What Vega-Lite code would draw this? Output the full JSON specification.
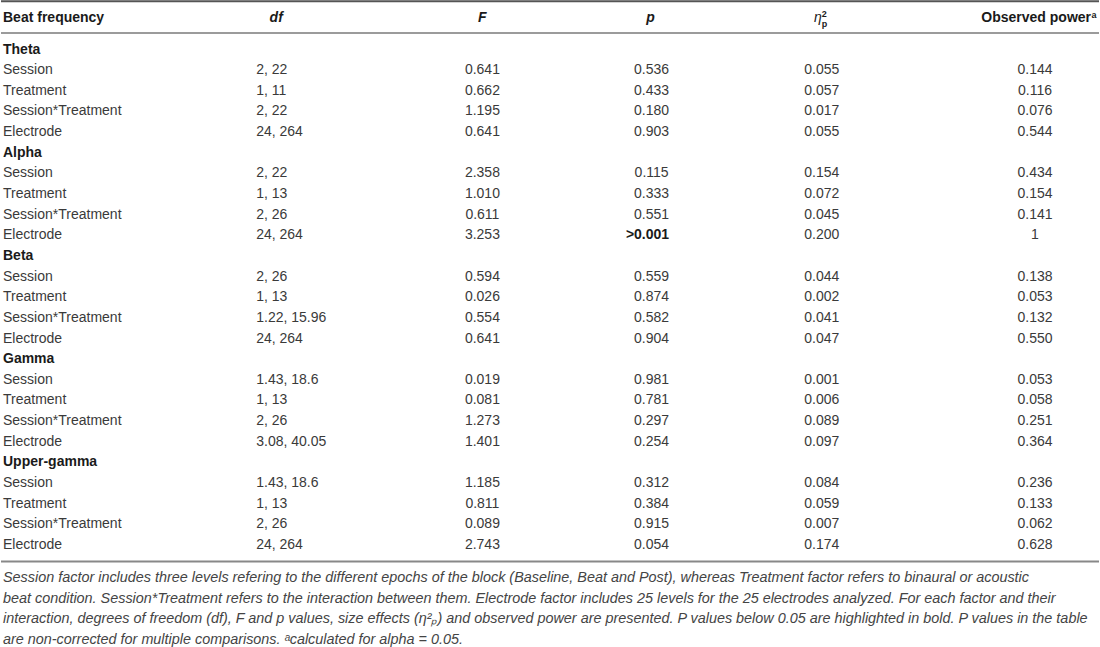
{
  "$schema": "https://vega.github.io/schema/vega-lite/v6.json",
  "width": 1100,
  "height": 647,
  "padding": 0,
  "autosize": {"type": "fit", "contains": "padding"},
  "background": "#ffffff",
  "config": {
    "view": {"stroke": null},
    "axis": {"disable": true},
    "text": {"font": "Liberation Sans", "fontSize": 14, "baseline": "middle", "color": "#3a3a3a"}
  },
  "datasets": {
    "table": [
      {"line": 1, "kind": "section", "label": "Theta"},
      {"line": 2, "kind": "row", "label": "Session", "df": "2, 22", "F": "0.641", "p": "0.536", "eta": "0.055", "power": "0.144"},
      {"line": 3, "kind": "row", "label": "Treatment", "df": "1, 11", "F": "0.662", "p": "0.433", "eta": "0.057", "power": "0.116"},
      {"line": 4, "kind": "row", "label": "Session*Treatment", "df": "2, 22", "F": "1.195", "p": "0.180", "eta": "0.017", "power": "0.076"},
      {"line": 5, "kind": "row", "label": "Electrode", "df": "24, 264", "F": "0.641", "p": "0.903", "eta": "0.055", "power": "0.544"},
      {"line": 6, "kind": "section", "label": "Alpha"},
      {"line": 7, "kind": "row", "label": "Session", "df": "2, 22", "F": "2.358", "p": "0.115", "eta": "0.154", "power": "0.434"},
      {"line": 8, "kind": "row", "label": "Treatment", "df": "1, 13", "F": "1.010", "p": "0.333", "eta": "0.072", "power": "0.154"},
      {"line": 9, "kind": "row", "label": "Session*Treatment", "df": "2, 26", "F": "0.611", "p": "0.551", "eta": "0.045", "power": "0.141"},
      {"line": 10, "kind": "row", "label": "Electrode", "df": "24, 264", "F": "3.253", "p": ">0.001", "eta": "0.200", "power": "1"},
      {"line": 11, "kind": "section", "label": "Beta"},
      {"line": 12, "kind": "row", "label": "Session", "df": "2, 26", "F": "0.594", "p": "0.559", "eta": "0.044", "power": "0.138"},
      {"line": 13, "kind": "row", "label": "Treatment", "df": "1, 13", "F": "0.026", "p": "0.874", "eta": "0.002", "power": "0.053"},
      {"line": 14, "kind": "row", "label": "Session*Treatment", "df": "1.22, 15.96", "F": "0.554", "p": "0.582", "eta": "0.041", "power": "0.132"},
      {"line": 15, "kind": "row", "label": "Electrode", "df": "24, 264", "F": "0.641", "p": "0.904", "eta": "0.047", "power": "0.550"},
      {"line": 16, "kind": "section", "label": "Gamma"},
      {"line": 17, "kind": "row", "label": "Session", "df": "1.43, 18.6", "F": "0.019", "p": "0.981", "eta": "0.001", "power": "0.053"},
      {"line": 18, "kind": "row", "label": "Treatment", "df": "1, 13", "F": "0.081", "p": "0.781", "eta": "0.006", "power": "0.058"},
      {"line": 19, "kind": "row", "label": "Session*Treatment", "df": "2, 26", "F": "1.273", "p": "0.297", "eta": "0.089", "power": "0.251"},
      {"line": 20, "kind": "row", "label": "Electrode", "df": "3.08, 40.05", "F": "1.401", "p": "0.254", "eta": "0.097", "power": "0.364"},
      {"line": 21, "kind": "section", "label": "Upper-gamma"},
      {"line": 22, "kind": "row", "label": "Session", "df": "1.43, 18.6", "F": "1.185", "p": "0.312", "eta": "0.084", "power": "0.236"},
      {"line": 23, "kind": "row", "label": "Treatment", "df": "1, 13", "F": "0.811", "p": "0.384", "eta": "0.059", "power": "0.133"},
      {"line": 24, "kind": "row", "label": "Session*Treatment", "df": "2, 26", "F": "0.089", "p": "0.915", "eta": "0.007", "power": "0.062"},
      {"line": 25, "kind": "row", "label": "Electrode", "df": "24, 264", "F": "2.743", "p": "0.054", "eta": "0.174", "power": "0.628"}
    ],
    "header": [
      {"col": "label", "part": "main", "title": "Beat frequency"},
      {"col": "df", "part": "main", "title": "df"},
      {"col": "F", "part": "main", "title": "F"},
      {"col": "p", "part": "main", "title": "p"},
      {"col": "eta", "part": "main", "title": "η"},
      {"col": "eta", "part": "sup", "title": "2"},
      {"col": "eta", "part": "sub", "title": "p"},
      {"col": "power", "part": "main", "title": "Observed power"},
      {"col": "power", "part": "sup", "title": "a"}
    ],
    "notes": [
      {"line": 1, "text": "Session factor includes three levels refering to the different epochs of the block (Baseline, Beat and Post), whereas Treatment factor refers to binaural or acoustic"},
      {"line": 2, "text": "beat condition. Session*Treatment refers to the interaction between them. Electrode factor includes 25 levels for the 25 electrodes analyzed. For each factor and their"},
      {"line": 3, "text": "interaction, degrees of freedom (df), F and p values, size effects (η²ₚ) and observed power are presented. P values below 0.05 are highlighted in bold. P values in the table"},
      {"line": 4, "text": "are non-corrected for multiple comparisons. ᵃcalculated for alpha = 0.05."}
    ]
  },
  "layer": [
    {
      "data": {"name": "header"},
      "layer": [
        {
          "data": {"values": [{}]},
          "mark": {"type": "rule", "color": "#555555", "strokeWidth": 2},
          "encoding": {"y": {"datum": -1.05, "type": "quantitative", "scale": {"domain": [0, 1], "range": [17.5, 33], "zero": false, "nice": false}, "axis": null}}
        },
        {
          "data": {"values": [{}]},
          "mark": {"type": "rule", "color": "#7a7a7a", "strokeWidth": 1.5},
          "encoding": {"y": {"datum": 1, "type": "quantitative", "scale": {"domain": [0, 1], "range": [17.5, 33], "zero": false, "nice": false}, "axis": null}}
        },
        {
          "transform": [{"filter": "datum.col === 'label' && datum.part === 'main'"}],
          "mark": {"type": "text", "align": "left", "fontWeight": "bold", "color": "#1a1a1a"},
          "encoding": {
            "x": {"field": "col", "type": "nominal", "scale": {"type": "point", "domain": ["label", "df", "F", "p", "eta", "power"], "range": [2, 1033], "padding": 0}, "axis": null},
            "y": {"datum": 0, "type": "quantitative", "scale": {"domain": [0, 1], "range": [17.5, 33], "zero": false, "nice": false}, "axis": null},
            "text": {"field": "title"}
          }
        },
        {
          "transform": [{"filter": "(datum.col === 'df' || datum.col === 'F') && datum.part === 'main'"}],
          "mark": {"type": "text", "align": "center", "fontWeight": "bold", "fontStyle": "italic", "color": "#1a1a1a", "dx": 67},
          "encoding": {
            "x": {"field": "col", "type": "nominal", "scale": {"type": "point", "domain": ["label", "df", "F", "p", "eta", "power"], "range": [2, 1033], "padding": 0}, "axis": null},
            "y": {"datum": 0, "type": "quantitative", "scale": {"domain": [0, 1], "range": [17.5, 33], "zero": false, "nice": false}, "axis": null},
            "text": {"field": "title"}
          }
        },
        {
          "transform": [{"filter": "datum.col === 'p' && datum.part === 'main'"}],
          "mark": {"type": "text", "align": "center", "fontWeight": "bold", "fontStyle": "italic", "color": "#1a1a1a", "dx": 29},
          "encoding": {
            "x": {"field": "col", "type": "nominal", "scale": {"type": "point", "domain": ["label", "df", "F", "p", "eta", "power"], "range": [2, 1033], "padding": 0}, "axis": null},
            "y": {"datum": 0, "type": "quantitative", "scale": {"domain": [0, 1], "range": [17.5, 33], "zero": false, "nice": false}, "axis": null},
            "text": {"field": "title"}
          }
        },
        {
          "transform": [{"filter": "datum.col === 'eta' && datum.part === 'main'"}],
          "mark": {"type": "text", "align": "center", "fontStyle": "italic", "color": "#1a1a1a", "dx": -10},
          "encoding": {
            "x": {"field": "col", "type": "nominal", "scale": {"type": "point", "domain": ["label", "df", "F", "p", "eta", "power"], "range": [2, 1033], "padding": 0}, "axis": null},
            "y": {"datum": 0, "type": "quantitative", "scale": {"domain": [0, 1], "range": [17.5, 33], "zero": false, "nice": false}, "axis": null},
            "text": {"field": "title"}
          }
        },
        {
          "transform": [{"filter": "datum.col === 'eta' && datum.part === 'sup'"}],
          "mark": {"type": "text", "align": "left", "baseline": "alphabetic", "fontSize": 9, "fontWeight": "bold", "color": "#1a1a1a", "dx": -6, "dy": -0.5},
          "encoding": {
            "x": {"field": "col", "type": "nominal", "scale": {"type": "point", "domain": ["label", "df", "F", "p", "eta", "power"], "range": [2, 1033], "padding": 0}, "axis": null},
            "y": {"datum": 0, "type": "quantitative", "scale": {"domain": [0, 1], "range": [17.5, 33], "zero": false, "nice": false}, "axis": null},
            "text": {"field": "title"}
          }
        },
        {
          "transform": [{"filter": "datum.col === 'eta' && datum.part === 'sub'"}],
          "mark": {"type": "text", "align": "left", "baseline": "alphabetic", "fontSize": 9, "fontWeight": "bold", "color": "#1a1a1a", "dx": -6, "dy": 9.5},
          "encoding": {
            "x": {"field": "col", "type": "nominal", "scale": {"type": "point", "domain": ["label", "df", "F", "p", "eta", "power"], "range": [2, 1033], "padding": 0}, "axis": null},
            "y": {"datum": 0, "type": "quantitative", "scale": {"domain": [0, 1], "range": [17.5, 33], "zero": false, "nice": false}, "axis": null},
            "text": {"field": "title"}
          }
        },
        {
          "transform": [{"filter": "datum.col === 'power' && datum.part === 'main'"}],
          "mark": {"type": "text", "align": "right", "fontWeight": "bold", "color": "#1a1a1a", "dx": 57},
          "encoding": {
            "x": {"field": "col", "type": "nominal", "scale": {"type": "point", "domain": ["label", "df", "F", "p", "eta", "power"], "range": [2, 1033], "padding": 0}, "axis": null},
            "y": {"datum": 0, "type": "quantitative", "scale": {"domain": [0, 1], "range": [17.5, 33], "zero": false, "nice": false}, "axis": null},
            "text": {"field": "title"}
          }
        },
        {
          "transform": [{"filter": "datum.col === 'power' && datum.part === 'sup'"}],
          "mark": {"type": "text", "align": "left", "baseline": "alphabetic", "fontSize": 9, "fontWeight": "bold", "color": "#1a1a1a", "dx": 57.5, "dy": 0.5},
          "encoding": {
            "x": {"field": "col", "type": "nominal", "scale": {"type": "point", "domain": ["label", "df", "F", "p", "eta", "power"], "range": [2, 1033], "padding": 0}, "axis": null},
            "y": {"datum": 0, "type": "quantitative", "scale": {"domain": [0, 1], "range": [17.5, 33], "zero": false, "nice": false}, "axis": null},
            "text": {"field": "title"}
          }
        }
      ]
    },
    {
      "data": {"name": "table"},
      "layer": [
        {
          "data": {"values": [{}]},
          "mark": {"type": "rule", "color": "#888888", "strokeWidth": 2},
          "encoding": {"y": {"datum": 25.8, "type": "quantitative", "scale": {"domain": [1, 25], "range": [49.5, 545], "zero": false, "nice": false}, "axis": null}}
        },
        {
          "transform": [{"filter": "datum.kind === 'section'"}],
          "mark": {"type": "text", "align": "left", "fontWeight": "bold", "color": "#1a1a1a"},
          "encoding": {
            "x": {"datum": "label", "type": "nominal", "scale": {"type": "point", "domain": ["label", "df", "F", "p", "eta", "power"], "range": [2, 1033], "padding": 0}, "axis": null},
            "y": {"field": "line", "type": "quantitative", "scale": {"domain": [1, 25], "range": [49.5, 545], "zero": false, "nice": false}, "axis": null},
            "text": {"field": "label"}
          }
        },
        {
          "transform": [{"filter": "datum.kind === 'row'"}],
          "mark": {"type": "text", "align": "left"},
          "encoding": {
            "x": {"datum": "label", "type": "nominal", "scale": {"type": "point", "domain": ["label", "df", "F", "p", "eta", "power"], "range": [2, 1033], "padding": 0}, "axis": null},
            "y": {"field": "line", "type": "quantitative", "scale": {"domain": [1, 25], "range": [49.5, 545], "zero": false, "nice": false}, "axis": null},
            "text": {"field": "label"}
          }
        },
        {
          "transform": [{"filter": "datum.kind === 'row'"}],
          "mark": {"type": "text", "align": "left", "dx": 47},
          "encoding": {
            "x": {"datum": "df", "type": "nominal", "scale": {"type": "point", "domain": ["label", "df", "F", "p", "eta", "power"], "range": [2, 1033], "padding": 0}, "axis": null},
            "y": {"field": "line", "type": "quantitative", "scale": {"domain": [1, 25], "range": [49.5, 545], "zero": false, "nice": false}, "axis": null},
            "text": {"field": "df"}
          }
        },
        {
          "transform": [{"filter": "datum.kind === 'row'"}],
          "mark": {"type": "text", "align": "center", "dx": 67},
          "encoding": {
            "x": {"datum": "F", "type": "nominal", "scale": {"type": "point", "domain": ["label", "df", "F", "p", "eta", "power"], "range": [2, 1033], "padding": 0}, "axis": null},
            "y": {"field": "line", "type": "quantitative", "scale": {"domain": [1, 25], "range": [49.5, 545], "zero": false, "nice": false}, "axis": null},
            "text": {"field": "F"}
          }
        },
        {
          "transform": [{"filter": "datum.kind === 'row' && !(datum.p[0] === '>' || toNumber(datum.p) < 0.05)"}],
          "mark": {"type": "text", "align": "center", "dx": 30},
          "encoding": {
            "x": {"datum": "p", "type": "nominal", "scale": {"type": "point", "domain": ["label", "df", "F", "p", "eta", "power"], "range": [2, 1033], "padding": 0}, "axis": null},
            "y": {"field": "line", "type": "quantitative", "scale": {"domain": [1, 25], "range": [49.5, 545], "zero": false, "nice": false}, "axis": null},
            "text": {"field": "p"}
          }
        },
        {
          "transform": [{"filter": "datum.kind === 'row' && (datum.p[0] === '>' || toNumber(datum.p) < 0.05)"}],
          "mark": {"type": "text", "align": "right", "fontWeight": "bold", "color": "#1a1a1a", "dx": 47.5},
          "encoding": {
            "x": {"datum": "p", "type": "nominal", "scale": {"type": "point", "domain": ["label", "df", "F", "p", "eta", "power"], "range": [2, 1033], "padding": 0}, "axis": null},
            "y": {"field": "line", "type": "quantitative", "scale": {"domain": [1, 25], "range": [49.5, 545], "zero": false, "nice": false}, "axis": null},
            "text": {"field": "p"}
          }
        },
        {
          "transform": [{"filter": "datum.kind === 'row'"}],
          "mark": {"type": "text", "align": "center", "dx": -6},
          "encoding": {
            "x": {"datum": "eta", "type": "nominal", "scale": {"type": "point", "domain": ["label", "df", "F", "p", "eta", "power"], "range": [2, 1033], "padding": 0}, "axis": null},
            "y": {"field": "line", "type": "quantitative", "scale": {"domain": [1, 25], "range": [49.5, 545], "zero": false, "nice": false}, "axis": null},
            "text": {"field": "eta"}
          }
        },
        {
          "transform": [{"filter": "datum.kind === 'row'"}],
          "mark": {"type": "text", "align": "center", "dx": 1},
          "encoding": {
            "x": {"datum": "power", "type": "nominal", "scale": {"type": "point", "domain": ["label", "df", "F", "p", "eta", "power"], "range": [2, 1033], "padding": 0}, "axis": null},
            "y": {"field": "line", "type": "quantitative", "scale": {"domain": [1, 25], "range": [49.5, 545], "zero": false, "nice": false}, "axis": null},
            "text": {"field": "power"}
          }
        }
      ]
    },
    {
      "data": {"name": "notes"},
      "mark": {"type": "text", "align": "left", "fontStyle": "italic", "fontSize": 14.4, "color": "#444444"},
      "encoding": {
        "x": {"datum": "label", "type": "nominal", "scale": {"type": "point", "domain": ["label", "df", "F", "p", "eta", "power"], "range": [2, 1033], "padding": 0}, "axis": null},
        "y": {"field": "line", "type": "quantitative", "scale": {"domain": [1, 4], "range": [578, 640], "zero": false, "nice": false}, "axis": null},
        "text": {"field": "text"}
      }
    }
  ],
  "resolve": {"scale": {"y": "independent"}}
}
